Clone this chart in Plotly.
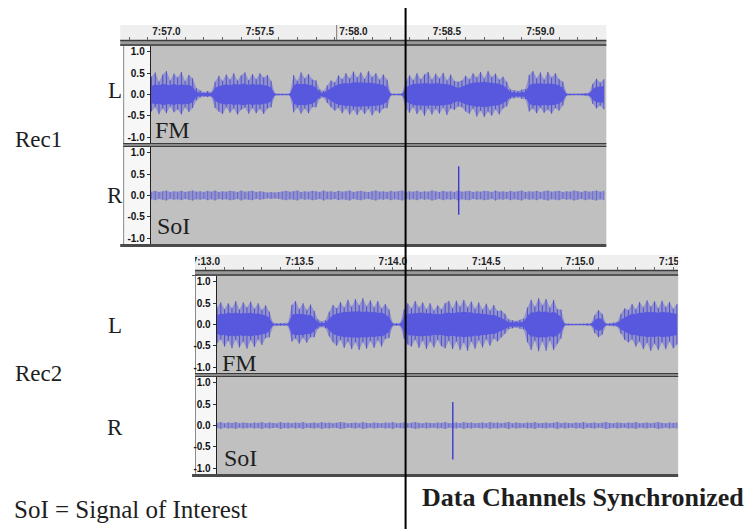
import plotly.graph_objects as go

W, H = 752, 529
OX, OY = 8, 8   # the page body adds an 8 px margin; positions below are given in picture pixels

# ---------------- data ----------------
rec1_ticks = [477.0, 477.5, 478.0, 478.5, 479.0]
rec1_tick_labels = ["7:57.0", "7:57.5", "7:58.0", "7:58.5", "7:59.0"]
rec2_ticks = [433.0, 433.5, 434.0, 434.5, 435.0, 435.5]
rec2_tick_labels = ["7:13.0", "7:13.5", "7:14.0", "7:14.5", "7:15.0", "7:15.5"]
amp_ticks = [1.0, 0.5, 0.0, -0.5, -1.0]
amp_tick_labels = ["1.0", "0.5", "0.0", "-0.5", "-1.0"]

sample_step = 0.02          # seconds between envelope samples
rec1_t0 = 476.92            # first envelope sample, Rec1 (s)
rec2_t0 = 433.06            # first envelope sample, Rec2 (s)

rec1_fm_top = [0.42, 0.52, 0.30, 0.47, 0.55, 0.33, 0.49, 0.40, 0.53, 0.31, 0.46, 0.38,
               0.15, 0.09, 0.05, 0.08, 0.05,
               0.30, 0.44, 0.32, 0.47, 0.35, 0.50, 0.33, 0.45, 0.52, 0.34, 0.48, 0.36, 0.50, 0.40, 0.46, 0.32,
               0.03, 0.02, 0.02, 0.02, 0.03,
               0.46, 0.32, 0.52, 0.38, 0.48, 0.35, 0.33,
               0.12, 0.08,
               0.22, 0.33, 0.28, 0.45, 0.36, 0.50, 0.38, 0.54, 0.40, 0.52, 0.37, 0.55, 0.41, 0.50, 0.35, 0.47, 0.35,
               0.03, 0.02, 0.02, 0.03,
               0.30, 0.45, 0.34, 0.50, 0.36, 0.47, 0.53, 0.35, 0.49, 0.38, 0.51, 0.33, 0.47, 0.32, 0.30,
               0.33, 0.44, 0.36, 0.50, 0.40, 0.53, 0.38, 0.55, 0.41, 0.49, 0.35, 0.42, 0.30,
               0.12, 0.10, 0.08, 0.11, 0.13,
               0.46, 0.55, 0.38, 0.52, 0.35, 0.53, 0.40, 0.50, 0.36, 0.30,
               0.03, 0.02, 0.02, 0.02, 0.02, 0.03, 0.04,
               0.25, 0.37, 0.28, 0.36]
rec1_fm_bot = [0.40, 0.30, 0.46, 0.33, 0.44, 0.28, 0.42, 0.35, 0.47, 0.30, 0.41, 0.32,
               0.14, 0.07, 0.05, 0.06, 0.05,
               0.32, 0.40, 0.46, 0.30, 0.43, 0.33, 0.47, 0.36, 0.31, 0.45, 0.32, 0.44, 0.34, 0.46, 0.33, 0.30,
               0.03, 0.02, 0.02, 0.02, 0.03,
               0.42, 0.31, 0.45, 0.33, 0.44, 0.30, 0.30,
               0.10, 0.07,
               0.20, 0.30, 0.38, 0.31, 0.44, 0.33, 0.47, 0.36, 0.48, 0.35, 0.46, 0.34, 0.49, 0.37, 0.44, 0.33, 0.32,
               0.03, 0.02, 0.02, 0.03,
               0.32, 0.43, 0.30, 0.46, 0.35, 0.50, 0.33, 0.47, 0.34, 0.45, 0.31, 0.48, 0.33, 0.36, 0.28,
               0.30, 0.40, 0.45, 0.33, 0.52, 0.38, 0.53, 0.40, 0.50, 0.35, 0.47, 0.33, 0.28,
               0.10, 0.09, 0.07, 0.10, 0.11,
               0.40, 0.33, 0.44, 0.31, 0.43, 0.35, 0.45, 0.32, 0.38, 0.26,
               0.03, 0.02, 0.02, 0.02, 0.02, 0.03, 0.04,
               0.22, 0.33, 0.26, 0.35]
rec1_fm_rms = [0.20, 0.24, 0.21, 0.25, 0.23, 0.22, 0.25, 0.21, 0.24, 0.22, 0.23, 0.18,
               0.06, 0.04, 0.03, 0.04, 0.03,
               0.15, 0.20, 0.22, 0.24, 0.21, 0.25, 0.23, 0.24, 0.26, 0.22, 0.25, 0.23, 0.24, 0.22, 0.21, 0.16,
               0.01, 0.01, 0.01, 0.01, 0.01,
               0.22, 0.26, 0.24, 0.25, 0.23, 0.22, 0.16,
               0.05, 0.04,
               0.10, 0.15, 0.20, 0.24, 0.25, 0.27, 0.26, 0.29, 0.28, 0.29, 0.27, 0.28, 0.27, 0.26, 0.25, 0.23, 0.17,
               0.01, 0.01, 0.01, 0.01,
               0.16, 0.22, 0.24, 0.26, 0.25, 0.27, 0.26, 0.25, 0.27, 0.26, 0.25, 0.24, 0.23, 0.19, 0.15,
               0.18, 0.23, 0.26, 0.27, 0.29, 0.28, 0.30, 0.28, 0.27, 0.26, 0.25, 0.21, 0.15,
               0.06, 0.05, 0.04, 0.05, 0.06,
               0.22, 0.26, 0.25, 0.27, 0.24, 0.26, 0.25, 0.24, 0.21, 0.15,
               0.01, 0.01, 0.01, 0.01, 0.01, 0.01, 0.02,
               0.12, 0.19, 0.18, 0.20]
rec1_soi = [0.09, 0.11, 0.08, 0.10, 0.12, 0.08, 0.10, 0.09, 0.11, 0.08,
            0.10, 0.12, 0.09, 0.10, 0.08, 0.11, 0.09, 0.12, 0.08, 0.10,
            0.09, 0.11, 0.10, 0.08, 0.12, 0.09, 0.10, 0.11, 0.08, 0.10,
            0.09, 0.07, 0.08, 0.07, 0.08, 0.09, 0.11, 0.09, 0.10, 0.12,
            0.08, 0.10, 0.09, 0.11, 0.10, 0.08, 0.12, 0.09, 0.10, 0.08,
            0.11, 0.09, 0.10, 0.12, 0.08, 0.10, 0.11, 0.09, 0.08, 0.10,
            0.12, 0.09, 0.10, 0.08, 0.11, 0.09, 0.10, 0.12, 0.08, 0.10,
            0.09, 0.11, 0.08, 0.10, 0.09, 0.12, 0.10, 0.08, 0.11, 0.09,
            0.10, 0.08, 0.12, 0.09, 0.10, 0.11, 0.08, 0.10, 0.09, 0.11,
            0.10, 0.08, 0.12, 0.09, 0.10, 0.08, 0.11, 0.09, 0.10, 0.12,
            0.08, 0.10, 0.09, 0.11, 0.08, 0.10, 0.12, 0.09, 0.10, 0.11,
            0.08, 0.10, 0.09, 0.12, 0.10, 0.08, 0.11, 0.09, 0.10, 0.12,
            0.09, 0.11]
rec1_spike_time, rec1_spike_top, rec1_spike_bot = 478.563, 0.69, -0.45

rec2_fm_top = [0.40, 0.52, 0.36, 0.50, 0.38, 0.55, 0.35, 0.52, 0.40, 0.54, 0.37, 0.50, 0.34, 0.45, 0.30,
               0.04, 0.03, 0.03, 0.03, 0.04,
               0.46, 0.55, 0.36, 0.50, 0.34, 0.47, 0.32,
               0.12, 0.07, 0.10,
               0.30, 0.46, 0.38, 0.53, 0.40, 0.58, 0.42, 0.60, 0.45, 0.62, 0.43, 0.57, 0.40, 0.55, 0.38, 0.48, 0.35,
               0.04, 0.03, 0.04,
               0.35, 0.50, 0.38, 0.55, 0.40, 0.52, 0.36, 0.50, 0.33, 0.45, 0.36, 0.50, 0.55, 0.38,
               0.56, 0.42, 0.58, 0.40, 0.54, 0.37, 0.52, 0.35, 0.49, 0.33, 0.46, 0.32, 0.33, 0.25,
               0.12, 0.10, 0.08, 0.11, 0.14,
               0.40, 0.58, 0.42, 0.62, 0.45, 0.60, 0.40, 0.58, 0.36, 0.35,
               0.03, 0.02, 0.02, 0.02, 0.02, 0.02, 0.03, 0.03,
               0.22, 0.34, 0.25,
               0.03, 0.03, 0.04, 0.06,
               0.25, 0.38, 0.34, 0.48, 0.36, 0.53, 0.40, 0.57, 0.42, 0.55, 0.38, 0.56, 0.41, 0.53, 0.37, 0.48]
rec2_fm_bot = [0.44, 0.35, 0.52, 0.38, 0.56, 0.36, 0.54, 0.40, 0.57, 0.37, 0.53, 0.35, 0.48, 0.32, 0.30,
               0.04, 0.03, 0.03, 0.03, 0.04,
               0.40, 0.33, 0.45, 0.31, 0.43, 0.30, 0.30,
               0.10, 0.06, 0.09,
               0.28, 0.42, 0.50, 0.36, 0.55, 0.40, 0.58, 0.42, 0.60, 0.41, 0.57, 0.39, 0.55, 0.37, 0.52, 0.34, 0.32,
               0.04, 0.03, 0.04,
               0.33, 0.47, 0.52, 0.36, 0.55, 0.38, 0.58, 0.40, 0.54, 0.36, 0.51, 0.56, 0.38, 0.58,
               0.40, 0.60, 0.43, 0.62, 0.40, 0.57, 0.37, 0.54, 0.35, 0.50, 0.33, 0.40, 0.30, 0.22,
               0.11, 0.09, 0.07, 0.10, 0.12,
               0.42, 0.60, 0.38, 0.63, 0.40, 0.62, 0.38, 0.60, 0.45, 0.33,
               0.03, 0.02, 0.02, 0.02, 0.02, 0.02, 0.03, 0.03,
               0.20, 0.30, 0.24,
               0.03, 0.03, 0.04, 0.05,
               0.22, 0.36, 0.42, 0.35, 0.52, 0.40, 0.58, 0.43, 0.62, 0.45, 0.60, 0.42, 0.58, 0.40, 0.56, 0.47]
rec2_fm_rms = [0.22, 0.26, 0.24, 0.28, 0.26, 0.28, 0.25, 0.27, 0.26, 0.28, 0.25, 0.26, 0.23, 0.22, 0.15,
               0.01, 0.01, 0.01, 0.01, 0.01,
               0.22, 0.26, 0.24, 0.25, 0.22, 0.23, 0.15,
               0.05, 0.03, 0.04,
               0.14, 0.22, 0.26, 0.27, 0.30, 0.29, 0.31, 0.30, 0.32, 0.29, 0.31, 0.28, 0.30, 0.27, 0.28, 0.24, 0.17,
               0.01, 0.01, 0.01,
               0.17, 0.25, 0.26, 0.27, 0.27, 0.28, 0.26, 0.27, 0.24, 0.25, 0.24, 0.27, 0.28, 0.26,
               0.29, 0.28, 0.30, 0.28, 0.29, 0.26, 0.27, 0.24, 0.25, 0.22, 0.23, 0.19, 0.16, 0.11,
               0.05, 0.05, 0.04, 0.05, 0.06,
               0.20, 0.29, 0.28, 0.32, 0.29, 0.31, 0.27, 0.30, 0.25, 0.17,
               0.01, 0.01, 0.01, 0.01, 0.01, 0.01, 0.01, 0.01,
               0.10, 0.16, 0.12,
               0.01, 0.01, 0.02, 0.03,
               0.11, 0.17, 0.21, 0.25, 0.24, 0.28, 0.27, 0.30, 0.28, 0.30, 0.27, 0.30, 0.28, 0.29, 0.26, 0.25]
rec2_soi = [0.06, 0.08, 0.05, 0.07, 0.06, 0.08, 0.05, 0.07, 0.06, 0.05,
            0.07, 0.06, 0.08, 0.05, 0.07, 0.06, 0.05, 0.08, 0.06, 0.07,
            0.05, 0.07, 0.06, 0.08, 0.05, 0.06, 0.07, 0.05, 0.08, 0.06,
            0.07, 0.05, 0.06, 0.08, 0.07, 0.05, 0.06, 0.07, 0.05, 0.08,
            0.06, 0.05, 0.07, 0.06, 0.05, 0.07, 0.06, 0.08, 0.05, 0.06,
            0.07, 0.05, 0.06, 0.08, 0.06, 0.05, 0.07, 0.06, 0.05, 0.07,
            0.06, 0.08, 0.05, 0.06, 0.07, 0.05, 0.08, 0.06, 0.07, 0.05,
            0.06, 0.07, 0.05, 0.08, 0.06, 0.07, 0.05, 0.06, 0.08, 0.05,
            0.07, 0.06, 0.05, 0.07, 0.06, 0.08, 0.05, 0.06, 0.07, 0.05,
            0.06, 0.08, 0.05, 0.07, 0.06, 0.05, 0.07, 0.06, 0.08, 0.05,
            0.06, 0.07, 0.05, 0.06, 0.08, 0.06, 0.05, 0.07, 0.06, 0.05,
            0.07, 0.06, 0.08, 0.05, 0.06, 0.07, 0.05, 0.06, 0.08, 0.06,
            0.05, 0.07, 0.06, 0.07]
rec2_spike_time, rec2_spike_top, rec2_spike_bot = 434.321, 0.55, -0.80

# ---------------- layout helpers (picture-pixel geometry) ----------------
PX_PER_S = 190.0


def fx(x):
    return (x - OX) / W


def fy(y):
    return 1 - (y - OY) / H


def dom_x(x0, x1):
    return [fx(x0), fx(x1)]


def dom_y(y0, y1):
    return [fy(y1), fy(y0)]


def t_range(px0, px1, ref_t, ref_px):
    return [ref_t + (px0 - ref_px) / PX_PER_S, ref_t + (px1 - ref_px) / PX_PER_S]


PEAK_FILL = "rgba(100,100,220,0.50)"
STROKE = "rgba(60,60,200,0.85)"
RMS_FILL = "#5858df"
FONT_SERIF = "Liberation Serif"
FONT_SANS = "Liberation Sans"


def times(t0, n):
    return [t0 + sample_step * i for i in range(n)]


def envelope(t0, top, bot, xa, ya, fill):
    t = times(t0, len(top))
    xs = t + t[::-1]
    ys = list(top) + [-v for v in bot[::-1]]
    return go.Scatter(x=xs, y=ys, mode="lines", fill="toself", fillcolor=fill,
                      line=dict(color="rgba(0,0,0,0)", width=0), xaxis=xa, yaxis=ya,
                      hoverinfo="skip", showlegend=False)


def strokes(t0, top, bot, xa, ya, color, lw=0.9):
    xs, ys = [], []
    for t, a, b in zip(times(t0, len(top)), top, bot):
        xs += [t, t, None]
        ys += [a, -b, None]
    return go.Scatter(x=xs, y=ys, mode="lines", line=dict(color=color, width=lw),
                      xaxis=xa, yaxis=ya, hoverinfo="skip", showlegend=False)


def spike(t, top, bot, xa, ya):
    return go.Scatter(x=[t, t], y=[bot, top], mode="lines", line=dict(color="#3a3ad0", width=1.4),
                      xaxis=xa, yaxis=ya, hoverinfo="skip", showlegend=False)


fig = go.Figure()

# Rec1 L (FM)
fig.add_trace(envelope(rec1_t0, rec1_fm_top, rec1_fm_bot, "x2", "y2", PEAK_FILL))
fig.add_trace(strokes(rec1_t0, rec1_fm_top, rec1_fm_bot, "x2", "y2", STROKE))
fig.add_trace(envelope(rec1_t0, rec1_fm_rms, rec1_fm_rms, "x2", "y2", RMS_FILL))
# Rec1 R (SoI)
fig.add_trace(envelope(rec1_t0, rec1_soi, rec1_soi, "x3", "y3", PEAK_FILL))
fig.add_trace(strokes(rec1_t0, rec1_soi, rec1_soi, "x3", "y3", "rgba(60,60,200,0.6)", 0.8))
fig.add_trace(spike(rec1_spike_time, rec1_spike_top, rec1_spike_bot, "x3", "y3"))
# Rec2 L (FM)
fig.add_trace(envelope(rec2_t0, rec2_fm_top, rec2_fm_bot, "x5", "y5", PEAK_FILL))
fig.add_trace(strokes(rec2_t0, rec2_fm_top, rec2_fm_bot, "x5", "y5", STROKE))
fig.add_trace(envelope(rec2_t0, rec2_fm_rms, rec2_fm_rms, "x5", "y5", RMS_FILL))
# Rec2 R (SoI)
fig.add_trace(envelope(rec2_t0, rec2_soi, rec2_soi, "x6", "y6", PEAK_FILL))
fig.add_trace(strokes(rec2_t0, rec2_soi, rec2_soi, "x6", "y6", "rgba(60,60,200,0.6)", 0.8))
fig.add_trace(spike(rec2_spike_time, rec2_spike_top, rec2_spike_bot, "x6", "y6"))
# invisible anchors for the rulers
fig.add_trace(go.Scatter(x=rec1_ticks, y=[0.5] * len(rec1_ticks), mode="markers",
                         marker=dict(opacity=0), xaxis="x", yaxis="y", hoverinfo="skip", showlegend=False))
fig.add_trace(go.Scatter(x=rec2_ticks, y=[0.5] * len(rec2_ticks), mode="markers",
                         marker=dict(opacity=0), xaxis="x4", yaxis="y4", hoverinfo="skip", showlegend=False))

YR = [-1.141, 1.141]


def ruler_x(domain, rng, ticks, labels, anchor):
    return dict(domain=domain, range=rng, anchor=anchor, tickmode="array", tickvals=ticks, ticktext=labels,
                ticks="", ticklabelposition="inside", ticklabeloverflow="allow",
                showgrid=False, zeroline=False, showline=False,
                tickfont=dict(family=FONT_SANS, size=10, color="#222", weight="bold"),
                minor=dict(ticks="inside", ticklen=3, tickcolor="#666", dtick=0.1, tick0=ticks[0],
                           showgrid=False),
                fixedrange=True)


def wave_x(domain, rng, anchor):
    return dict(domain=domain, range=rng, anchor=anchor, showticklabels=False, ticks="", showgrid=False,
                zeroline=False, showline=False, fixedrange=True)


def wave_y(domain, anchor):
    return dict(domain=domain, range=YR, anchor=anchor, tickmode="array", tickvals=amp_ticks,
                ticktext=amp_tick_labels, ticks="outside", ticklen=3, tickcolor="#333",
                showgrid=False, zeroline=False, showline=True, linecolor="#222", linewidth=1,
                tickfont=dict(family=FONT_SANS, size=10, color="#111", weight="bold"),
                fixedrange=True)


def ruler_y(domain, anchor):
    return dict(domain=domain, range=[0, 1], anchor=anchor, visible=False, fixedrange=True)


fig.update_layout(
    width=W, height=H, autosize=False, margin=dict(l=0, r=0, t=0, b=0),
    paper_bgcolor="white", plot_bgcolor="rgba(0,0,0,0)",
    showlegend=False,
    xaxis=ruler_x(dom_x(122, 614), t_range(122, 614, 477.0, 167), rec1_ticks, rec1_tick_labels, "y"),
    yaxis=ruler_y(dom_y(25, 40), "x"),
    xaxis2=wave_x(dom_x(151, 614), t_range(151, 614, 477.0, 167), "y2"),
    yaxis2=wave_y(dom_y(46, 143), "x2"),
    xaxis3=wave_x(dom_x(151, 614), t_range(151, 614, 477.0, 167), "y3"),
    yaxis3=wave_y(dom_y(147, 244), "x3"),
    xaxis4=ruler_x(dom_x(195, 687), t_range(195, 687, 433.0, 207), rec2_ticks, rec2_tick_labels, "y4"),
    yaxis4=ruler_y(dom_y(255, 270), "x4"),
    xaxis5=wave_x(dom_x(218, 687), t_range(218, 687, 433.0, 207), "y5"),
    yaxis5=wave_y(dom_y(276, 373), "x5"),
    xaxis6=wave_x(dom_x(218, 687), t_range(218, 687, 433.0, 207), "y6"),
    yaxis6=wave_y(dom_y(377, 474), "x6"),
)


def rect(x0, y0, x1, y1, fill, line=None, lw=0, layer="below"):
    return dict(type="rect", xref="paper", yref="paper", x0=fx(x0), x1=fx(x1),
                y0=fy(y1), y1=fy(y0), fillcolor=fill,
                line=dict(color=line or "rgba(0,0,0,0)", width=lw), layer=layer)


def hline(x0, x1, y, color, lw=1, layer="below"):
    return dict(type="line", xref="paper", yref="paper", x0=fx(x0), x1=fx(x1),
                y0=fy(y), y1=fy(y), line=dict(color=color, width=lw), layer=layer)


def vline(x, y0, y1, color, lw=1, layer="below"):
    return dict(type="line", xref="paper", yref="paper", x0=fx(x), x1=fx(x),
                y0=fy(y0), y1=fy(y1), line=dict(color=color, width=lw), layer=layer)


shapes = []
for (fx0, fx1, wx0, ry0, ry1, wy0, wy1, sy0, sy1, by0) in [
        (120, 614, 151, 25, 40, 46, 143, 147, 244, 244),
        (193, 687, 218, 255, 270, 276, 373, 377, 474, 474)]:
    shapes.append(rect(fx0, ry0, fx1, ry1, "#efefef"))              # ruler
    shapes.append(rect(fx0, ry1, fx1, wy0, "#9a9a9a"))              # band under ruler
    shapes.append(hline(fx0, fx1, ry1 + 0.5, "#3c3c3c", 1.5))
    shapes.append(hline(fx0, fx1, wy0 - 1, "#3c3c3c", 1.5))
    shapes.append(rect(fx0 + 3, wy0, wx0, by0, "#f7f7f7"))          # track info panel
    shapes.append(vline(fx0 + 3.5, wy0, by0, "#8a8a8a", 1))
    shapes.append(rect(wx0, wy0, fx1, wy1, "#c0c0c0"))              # L waveform bg
    shapes.append(rect(wx0, sy0, fx1, sy1, "#c0c0c0"))              # R waveform bg
    shapes.append(rect(fx0 + 3, wy1, fx1, sy0, "#8a8a8a"))          # channel separator
    shapes.append(hline(fx0 + 3, fx1, wy1 + 0.5, "#3c3c3c", 1))
    shapes.append(hline(fx0 + 3, fx1, sy0 - 0.5, "#3c3c3c", 1))
    shapes.append(rect(fx0, by0, fx1, by0 + 3, "#4a4a4a"))          # bottom border

shapes.append(vline(340, 25, 40, "#777777", 1))                     # cursor mark in ruler
# clip ruler labels outside the Rec2 ruler
shapes.append(rect(687, 250, 760, 275, "white", layer="above"))
shapes.append(rect(150, 250, 196, 275, "white", layer="above"))
# synchronisation line
shapes.append(vline(410, 8, 537, "black", 2, layer="above"))
fig.update_layout(shapes=shapes)


def ann(text, x, y, size, xanchor="center", bold=False):
    return dict(text=text, x=fx(x), y=fy(y), xref="paper", yref="paper",
                xanchor=xanchor, yanchor="middle", showarrow=False,
                font=dict(family=FONT_SERIF, size=size, color="#1e1e1e",
                          weight="bold" if bold else "normal"))


annotations = [
    ann("L", 115, 91, 23), ann("R", 115, 195, 23), ann("Rec1", 11, 139, 23, "left"),
    ann("L", 115, 325, 23), ann("R", 115, 427, 23), ann("Rec2", 11, 373, 23, "left"),
    ann("FM", 153, 130, 24, "left"), ann("SoI", 155, 226, 24, "left"),
    ann("FM", 221, 363, 24, "left"), ann("SoI", 223, 458, 24, "left"),
    ann("SoI = Signal of Interest", 10, 509, 25, "left"),
    ann("Data Channels Synchronized", 425, 497, 26, "left", bold=True),
]
fig.update_layout(annotations=annotations)

fig.write_html("out.html", config={"displayModeBar": False, "responsive": False})
